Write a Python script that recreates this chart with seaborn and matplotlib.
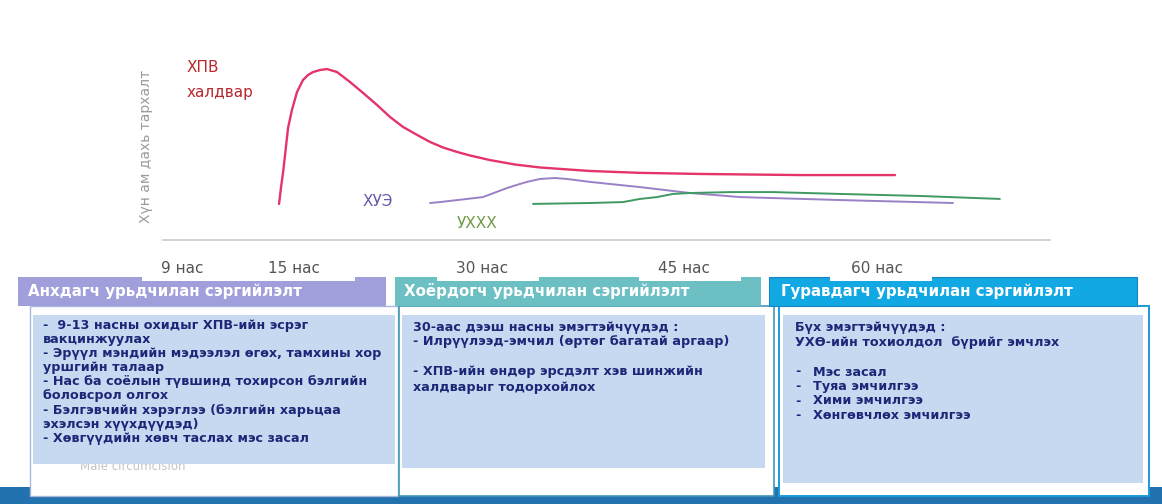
import numpy as np
import pandas as pd
import matplotlib
matplotlib.use("Agg")
import matplotlib.pyplot as plt
from matplotlib.patches import Rectangle
import seaborn as sns

# ---------------- data ----------------
tick_ages = [9, 15, 30, 45, 60]
tick_labels = ["9 нас", "15 нас", "30 нас", "45 нас", "60 нас"]

hpv_age = [14.20, 14.30, 14.41, 14.52, 14.68, 14.89, 15.24, 15.72, 16.12, 16.52, 17.08,
           17.63, 18.43, 19.47, 20.51, 21.62, 22.66, 23.70, 24.82, 25.85, 26.89, 28.01,
           29.04, 30.59, 32.45, 34.31, 38.02, 41.73, 46.24, 54.01, 61.40]
hpv_val = [19.5, 28.1, 36.2, 45.9, 60.5, 70.3, 80.0, 86.5, 89.2, 90.8, 91.9,
           92.4, 90.8, 85.4, 79.5, 73.0, 66.5, 61.1, 56.8, 53.0, 50.0, 47.6,
           45.7, 43.2, 40.8, 39.2, 37.3, 36.3, 35.7, 35.1, 35.1]

cin_age = [25.85, 26.65, 30.07, 31.86, 32.82, 33.34, 34.31, 35.42, 36.31, 38.02,
           41.73, 45.47, 49.35, 57.12, 65.90]
cin_val = [20.0, 20.5, 23.2, 28.1, 30.3, 31.4, 33.0, 33.5, 33.0, 31.4,
           28.6, 25.4, 23.2, 21.6, 20.0]

cc_age = [33.79, 38.02, 40.47, 41.73, 42.99, 44.18, 45.47, 48.57, 51.92, 57.12, 63.34, 69.55]
cc_val = [19.5, 20.0, 20.5, 22.2, 23.2, 24.9, 25.4, 25.9, 25.9, 24.9, 23.8, 22.2]

series_names = ["ХПВ\nхалдвар", "ХУЭ", "УХХХ"]
y_label = "Хүн ам дахь тархалт"

headers = ["Анхдагч урьдчилан сэргийлэлт",
           "Хоёрдогч урьдчилан сэргийлэлт",
           "Гуравдагч урьдчилан сэргийлэлт"]

primary_lines = ["-  9-13 насны охидыг ХПВ-ийн эсрэг",
                 "вакцинжуулах",
                 "- Эрүүл мэндийн мэдээлэл өгөх, тамхины хор",
                 "уршгийн талаар",
                 "- Нас ба соёлын түвшинд тохирсон бэлгийн",
                 "боловсрол олгох",
                 "- Бэлгэвчийн хэрэглээ (бэлгийн харьцаа",
                 "эхэлсэн хүүхдүүдэд)",
                 "- Хөвгүүдийн хөвч таслах мэс засал"]
secondary_lines = ["30-аас дээш насны эмэгтэйчүүдэд :",
                   "- Илрүүлээд-эмчил (өртөг багатай аргаар)",
                   "",
                   "- ХПВ-ийн өндөр эрсдэлт хэв шинжийн",
                   "халдварыг тодорхойлох"]
tertiary_head = ["Бүх эмэгтэйчүүдэд :",
                 "УХӨ-ийн тохиолдол  бүрийг эмчлэх"]
tertiary_items = ["Мэс засал", "Туяа эмчилгээ", "Хими эмчилгээ", "Хөнгөвчлөх эмчилгээ"]
ghost_text = "Male circumcision"

# ---------------- style ----------------
sns.set_theme(style="white")
plt.rcParams["font.family"] = ["DejaVu Sans"]

W, H = 1162, 504
fig = plt.figure(figsize=(W / 100, H / 100), dpi=100)
fig.patch.set_facecolor("white")

# background layout axes in pixel units
bg = fig.add_axes([0, 0, 1, 1], zorder=-1)
bg.set_xlim(0, W)
bg.set_ylim(H, 0)
bg.axis("off")

def rect(x0, y0, x1, y1, fc, ec="none", lw=0, z=1):
    bg.add_patch(Rectangle((x0, y0), x1 - x0, y1 - y0, facecolor=fc,
                           edgecolor=ec, linewidth=lw, zorder=z))

# bottom band
rect(0, 487, W, H, "#2272b0", z=1)
# section frames
rect(30, 306, 398, 496, "white", "#a9b8d8", 1.0, z=2)
rect(399, 306, 774, 496, "white", "#3f98b8", 1.2, z=2)
rect(779, 306, 1149, 496, "white", "#1c9ad6", 1.4, z=2)
# ghost text (behind content box)
bg.text(80, 466, ghost_text, fontsize=8.5, color="#c4c4c4", va="center", zorder=3)
# content boxes
rect(33, 315, 395, 464, "#c6d9f1", z=4)
rect(402, 315, 765, 468, "#c6d9f1", z=4)
rect(783, 315, 1143, 483, "#c6d9f1", z=4)
# header bars
rect(18, 277, 386, 306, "#a09fdc", z=5)
rect(395, 277, 761, 306, "#6cbfc2", z=5)
rect(769, 277, 1137, 306, "#12a8e3", "#1b82bd", 0.8, z=5)
# white tabs behind tick labels
for x0, x1 in [(142, 355), (437, 539), (639, 741), (830, 932)]:
    rect(x0, 244, x1, 281, "white", z=6)

for (x, txt) in zip([28, 404, 781], headers):
    bg.text(x, 291, txt, fontsize=10.8, fontweight="bold", color="white",
            va="center", ha="left", zorder=7)

body = dict(fontsize=9.2, fontweight="bold", color="#1c2778", va="center",
            ha="left", zorder=7)
for i, line in enumerate(primary_lines):
    bg.text(43, 325 + i * 14.2, line, **body)
for i, line in enumerate(secondary_lines):
    bg.text(413, 327 + i * 15, line, **body)
for i, line in enumerate(tertiary_head):
    bg.text(795, 327 + i * 15.5, line, **body)
for i, line in enumerate(tertiary_items):
    bg.text(795, 372 + i * 14.5, "-", **body)
    bg.text(813, 372 + i * 14.5, line, **body)

# series labels
bg.text(187, 68, series_names[0].split("\n")[0], fontsize=11, color="#b8282d", va="center", zorder=7)
bg.text(187, 93, series_names[0].split("\n")[1], fontsize=11, color="#b8282d", va="center", zorder=7)
bg.text(363, 202, series_names[1], fontsize=11, color="#6a58a8", va="center", zorder=7)
bg.text(457, 223, series_names[2], fontsize=11, color="#6f9b45", va="center", zorder=7)

fig.text(146 / W, 1 - 146 / H, y_label, rotation=90, fontsize=10, color="#9a9a9a",
         ha="center", va="center")

# ---------------- chart axes ----------------
AK = np.array([9, 15, 30, 45, 60], float)
PK = np.array([182, 294, 482, 684, 877], float)
s_lo = (PK[1] - PK[0]) / (AK[1] - AK[0])
s_hi = (PK[-1] - PK[-2]) / (AK[-1] - AK[-2])

def fwd(a):
    a = np.asarray(a, float)
    out = np.interp(a, AK, PK)
    out = np.where(a < AK[0], PK[0] + (a - AK[0]) * s_lo, out)
    out = np.where(a > AK[-1], PK[-1] + (a - AK[-1]) * s_hi, out)
    return out

def inv(p):
    p = np.asarray(p, float)
    out = np.interp(p, PK, AK)
    out = np.where(p < PK[0], AK[0] + (p - PK[0]) / s_lo, out)
    out = np.where(p > PK[-1], AK[-1] + (p - PK[-1]) / s_hi, out)
    return out

left_px, right_px, top_px, base_px = 163, 1050, 55, 240
ax = fig.add_axes([left_px / W, 1 - base_px / H, (right_px - left_px) / W,
                   (base_px - top_px) / H], zorder=1)
ax.set_facecolor("none")
ax.set_xscale("function", functions=(fwd, inv))
ax.set_xlim(float(inv(left_px)), float(inv(right_px)))
ax.set_ylim(0, 100)

line_kw = dict(sort=False, estimator=None, solid_joinstyle="round", solid_capstyle="round")
sns.lineplot(x=hpv_age, y=hpv_val, ax=ax, color="#e4346a", linewidth=1.7, **line_kw)
sns.lineplot(x=cin_age, y=cin_val, ax=ax, color="#9a80c6", linewidth=1.4, **line_kw)
sns.lineplot(x=cc_age, y=cc_val, ax=ax, color="#3f9a62", linewidth=1.4, **line_kw)

for s in ["top", "right", "left"]:
    ax.spines[s].set_visible(False)
ax.spines["bottom"].set_color("#d0d0d0")
ax.spines["bottom"].set_linewidth(1.3)
ax.set_yticks([])
ax.set_xticks(tick_ages)
ax.set_xticklabels(tick_labels)
ax.xaxis.set_minor_locator(matplotlib.ticker.NullLocator())
ax.tick_params(axis="x", length=0, pad=15, labelsize=11, labelcolor="#555555")
ax.set_xlabel("")
ax.set_ylabel("")

fig.savefig("out.png", dpi=100)
